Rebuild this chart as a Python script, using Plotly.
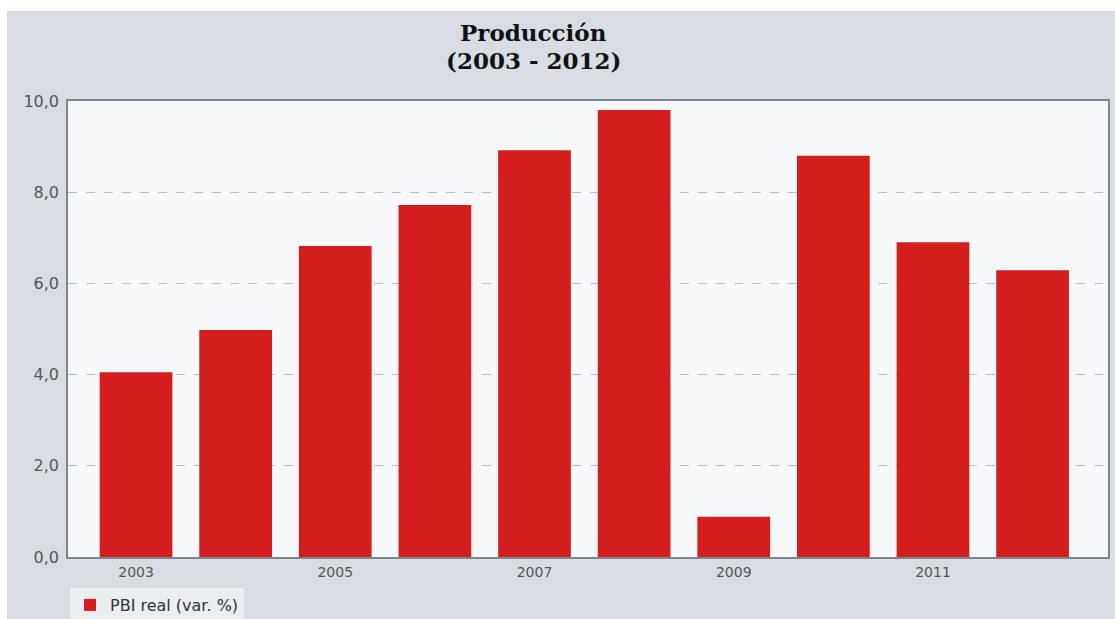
import plotly.graph_objects as go

years = [2003, 2004, 2005, 2006, 2007, 2008, 2009, 2010, 2011, 2012]
pbi = [4.05, 4.98, 6.82, 7.72, 8.92, 9.8, 0.88, 8.8, 6.9, 6.29]
x_ticks = [2003, 2005, 2007, 2009, 2011]
y_ticks = [0, 2, 4, 6, 8, 10]
series_name = "PBI real (var. %)"
title_lines = ["Producción", "(2003 - 2012)"]

W, H = 1115, 619
L, R, T, B = 68, 7, 101, 62
pw, ph = W - L - R, H - T - B

def px_x(x):
    return (x - L) / pw

def px_y(y):
    return (H - B - y) / ph

fig = go.Figure()
fig.add_trace(go.Bar(
    x=years, y=pbi, name=series_name, width=0.73,
    marker=dict(color="#d41d1d", line=dict(width=0)),
    showlegend=True,
))

title_font = dict(family="DejaVu Serif, Liberation Serif, serif", size=23, color="#111111")
annotations = [
    dict(text="<b>%s</b>" % t, x=px_x(533), y=px_y(yy), xref="paper", yref="paper",
         xanchor="center", yanchor="middle", showarrow=False, font=title_font)
    for t, yy in zip(title_lines, [33, 61])
]

tick_family = "DejaVu Sans, Liberation Sans, Arial, sans-serif"

fig.update_layout(
    width=W, height=H,
    margin=dict(l=L, r=R, t=T, b=B, autoexpand=False),
    paper_bgcolor="#d7dde2",
    plot_bgcolor="#f6f8fa",
    separators=",.",
    annotations=annotations,
    xaxis=dict(
        range=[2002.317, 2012.757], tickvals=x_ticks, ticktext=[str(v) for v in x_ticks],
        showgrid=False, zeroline=False, showline=True, linecolor="#7d868f", linewidth=1.5,
        mirror=True, ticks="", tickfont=dict(family=tick_family, size=14, color="#555555"),
        ticklabelstandoff=1,
    ),
    yaxis=dict(
        range=[0, 10], tickvals=y_ticks, tickformat=".1f",
        showgrid=True, gridcolor="#b8bec4", griddash="dash", gridwidth=1,
        zeroline=False, showline=True, linecolor="#7d868f", linewidth=1.5, mirror=True,
        ticks="", tickfont=dict(family=tick_family, size=16, color="#555555"),
        ticklabelstandoff=4,
    ),
    legend=dict(
        x=px_x(70), xanchor="left", y=px_y(588), yanchor="top",
        bgcolor="rgba(255,255,255,0.5)",
        font=dict(family=tick_family, size=16, color="#333333"),
        itemsizing="constant",
    ),
    shapes=[
        dict(type="rect", xref="paper", yref="paper", x0=px_x(0), x1=px_x(7), y0=px_y(H), y1=px_y(0),
             fillcolor="white", line=dict(width=0), layer="below"),
        dict(type="rect", xref="paper", yref="paper", x0=px_x(0), x1=px_x(W), y0=px_y(11), y1=px_y(0),
             fillcolor="white", line=dict(width=0), layer="below"),
    ],
)

fig.write_html("out.html")
